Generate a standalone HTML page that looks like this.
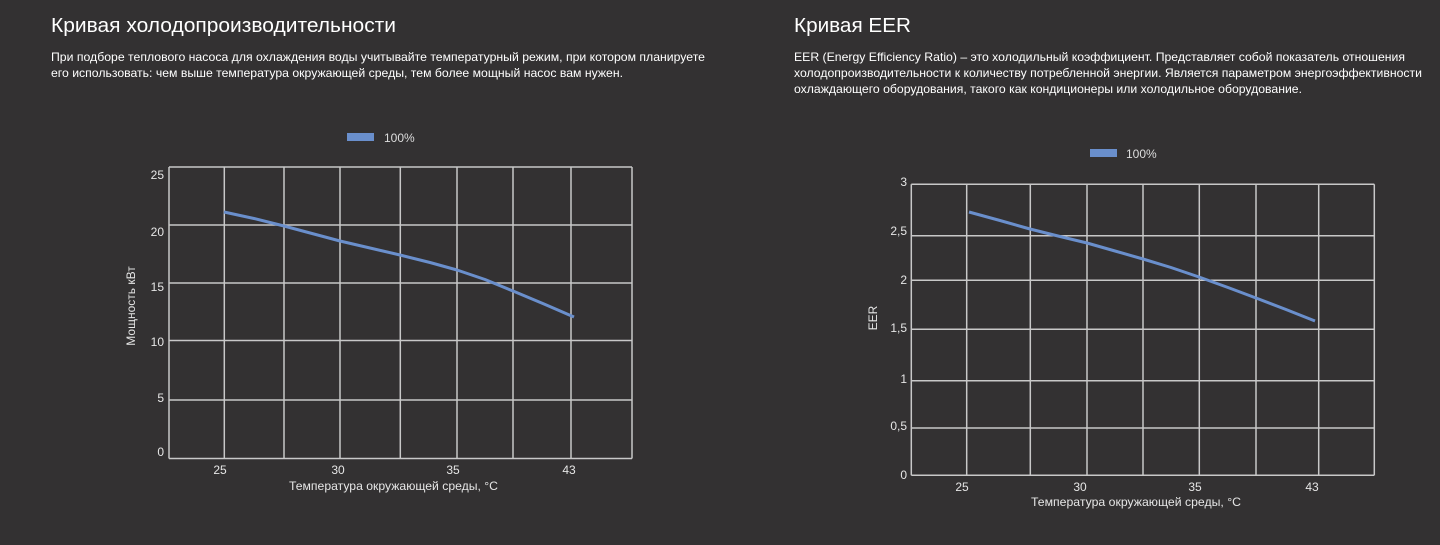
<!DOCTYPE html>
<html><head><meta charset="utf-8">
<style>
html,body{margin:0;padding:0;background:#333132;}
svg{display:block;}
text{font-family:"Liberation Sans",Arial,sans-serif;}
</style></head>
<body>
<svg width="1440" height="545" viewBox="0 0 1440 545" xmlns="http://www.w3.org/2000/svg">
<rect width="1440" height="545" fill="#333132"/>

<!-- Headers -->
<text x="51" y="32" font-size="20" fill="#ffffff" textLength="345" lengthAdjust="spacingAndGlyphs">Кривая холодопроизводительности</text>
<text x="51" y="61" font-size="12" fill="#ffffff" textLength="654" lengthAdjust="spacingAndGlyphs">При подборе теплового насоса для охлаждения воды учитывайте температурный режим, при котором планируете</text>
<text x="51" y="77" font-size="12" fill="#ffffff" textLength="572" lengthAdjust="spacingAndGlyphs">его использовать: чем выше температура окружающей среды, тем более мощный насос вам нужен.</text>

<text x="794" y="32" font-size="20" fill="#ffffff" textLength="117" lengthAdjust="spacingAndGlyphs">Кривая EER</text>
<text x="794" y="61" font-size="12" fill="#ffffff" textLength="611" lengthAdjust="spacingAndGlyphs">EER (Energy Efficiency Ratio) – это холодильный коэффициент. Представляет собой показатель отношения</text>
<text x="794" y="77" font-size="12" fill="#ffffff" textLength="628" lengthAdjust="spacingAndGlyphs">холодопроизводительности к количеству потребленной энергии. Является параметром энергоэффективности</text>
<text x="794" y="93" font-size="12" fill="#ffffff" textLength="508" lengthAdjust="spacingAndGlyphs">охлаждающего оборудования, такого как кондиционеры или холодильное оборудование.</text>

<!-- Legends -->
<rect x="347" y="133" width="27" height="8" fill="#6a8fcc"/>
<text x="384" y="142" font-size="12" fill="#dddddd">100%</text>
<rect x="1090" y="149" width="27" height="8" fill="#6a8fcc"/>
<text x="1126" y="158" font-size="12" fill="#dddddd">100%</text>

<!-- Left chart grid -->
<g stroke="#c8c8c8" stroke-width="1.5" fill="none">
  <line x1="169" y1="167" x2="632" y2="167"/>
  <line x1="169" y1="225" x2="632" y2="225"/>
  <line x1="169" y1="283" x2="632" y2="283"/>
  <line x1="169" y1="340.5" x2="632" y2="340.5"/>
  <line x1="169" y1="400" x2="632" y2="400"/>
  <line x1="169" y1="458.5" x2="632" y2="458.5"/>
  <line x1="169" y1="167" x2="169" y2="458.5"/>
  <line x1="224.3" y1="167" x2="224.3" y2="458.5"/>
  <line x1="284" y1="167" x2="284" y2="458.5"/>
  <line x1="340" y1="167" x2="340" y2="458.5"/>
  <line x1="400.3" y1="167" x2="400.3" y2="458.5"/>
  <line x1="457" y1="167" x2="457" y2="458.5"/>
  <line x1="513" y1="167" x2="513" y2="458.5"/>
  <line x1="571" y1="167" x2="571" y2="458.5"/>
  <line x1="632" y1="167" x2="632" y2="458.5"/>
</g>
<g font-size="12" fill="#e6e6e6" text-anchor="end">
  <text x="164" y="179">25</text>
  <text x="164" y="236">20</text>
  <text x="164" y="291">15</text>
  <text x="164" y="346">10</text>
  <text x="164" y="402">5</text>
  <text x="164" y="456">0</text>
</g>
<g font-size="12" fill="#e6e6e6" text-anchor="middle">
  <text x="220" y="474">25</text>
  <text x="338" y="474">30</text>
  <text x="453" y="474">35</text>
  <text x="569" y="474">43</text>
  <text x="393.5" y="490" textLength="209" lengthAdjust="spacingAndGlyphs">Температура окружающей среды, °C</text>
</g>
<text transform="translate(135,306) rotate(-90)" font-size="12" fill="#e6e6e6" text-anchor="middle">Мощность кВт</text>
<polyline points="224,212 254,218.5 284,226 312,233.5 340,241 370,248 400,255 430,262.5 457,270 485,279.5 513,291 544,304 574,317" fill="none" stroke="#6a8fcc" stroke-width="3" stroke-linejoin="round"/>

<!-- Right chart grid -->
<g stroke="#c8c8c8" stroke-width="1.5" fill="none">
  <line x1="911.3" y1="184.3" x2="1374.3" y2="184.3"/>
  <line x1="911.3" y1="235.7" x2="1374.3" y2="235.7"/>
  <line x1="911.3" y1="280.3" x2="1374.3" y2="280.3"/>
  <line x1="911.3" y1="329.3" x2="1374.3" y2="329.3"/>
  <line x1="911.3" y1="380.7" x2="1374.3" y2="380.7"/>
  <line x1="911.3" y1="428" x2="1374.3" y2="428"/>
  <line x1="911.3" y1="475.3" x2="1374.3" y2="475.3"/>
  <line x1="911.3" y1="184.3" x2="911.3" y2="475.3"/>
  <line x1="966.7" y1="184.3" x2="966.7" y2="475.3"/>
  <line x1="1030.3" y1="184.3" x2="1030.3" y2="475.3"/>
  <line x1="1087" y1="184.3" x2="1087" y2="475.3"/>
  <line x1="1143" y1="184.3" x2="1143" y2="475.3"/>
  <line x1="1199.3" y1="184.3" x2="1199.3" y2="475.3"/>
  <line x1="1256" y1="184.3" x2="1256" y2="475.3"/>
  <line x1="1318.7" y1="184.3" x2="1318.7" y2="475.3"/>
  <line x1="1374.3" y1="184.3" x2="1374.3" y2="475.3"/>
</g>
<g font-size="12" fill="#e6e6e6" text-anchor="end">
  <text x="907" y="186">3</text>
  <text x="907" y="235">2,5</text>
  <text x="907" y="284">2</text>
  <text x="907" y="332">1,5</text>
  <text x="907" y="383">1</text>
  <text x="907" y="430">0,5</text>
  <text x="907" y="479">0</text>
</g>
<g font-size="12" fill="#e6e6e6" text-anchor="middle">
  <text x="962" y="491">25</text>
  <text x="1080" y="491">30</text>
  <text x="1195" y="491">35</text>
  <text x="1312" y="491">43</text>
  <text x="1136" y="506" textLength="210" lengthAdjust="spacingAndGlyphs">Температура окружающей среды, °C</text>
</g>
<text transform="translate(877,318) rotate(-90)" font-size="12" fill="#e6e6e6" text-anchor="middle">EER</text>
<polyline points="969,212 1000,220.5 1030,229 1058,236 1087,243 1115,251 1143,259 1171,267.5 1199,277 1228,287.5 1256,298 1286,309.5 1315,321" fill="none" stroke="#6a8fcc" stroke-width="3" stroke-linejoin="round"/>
</svg>
</body></html>
